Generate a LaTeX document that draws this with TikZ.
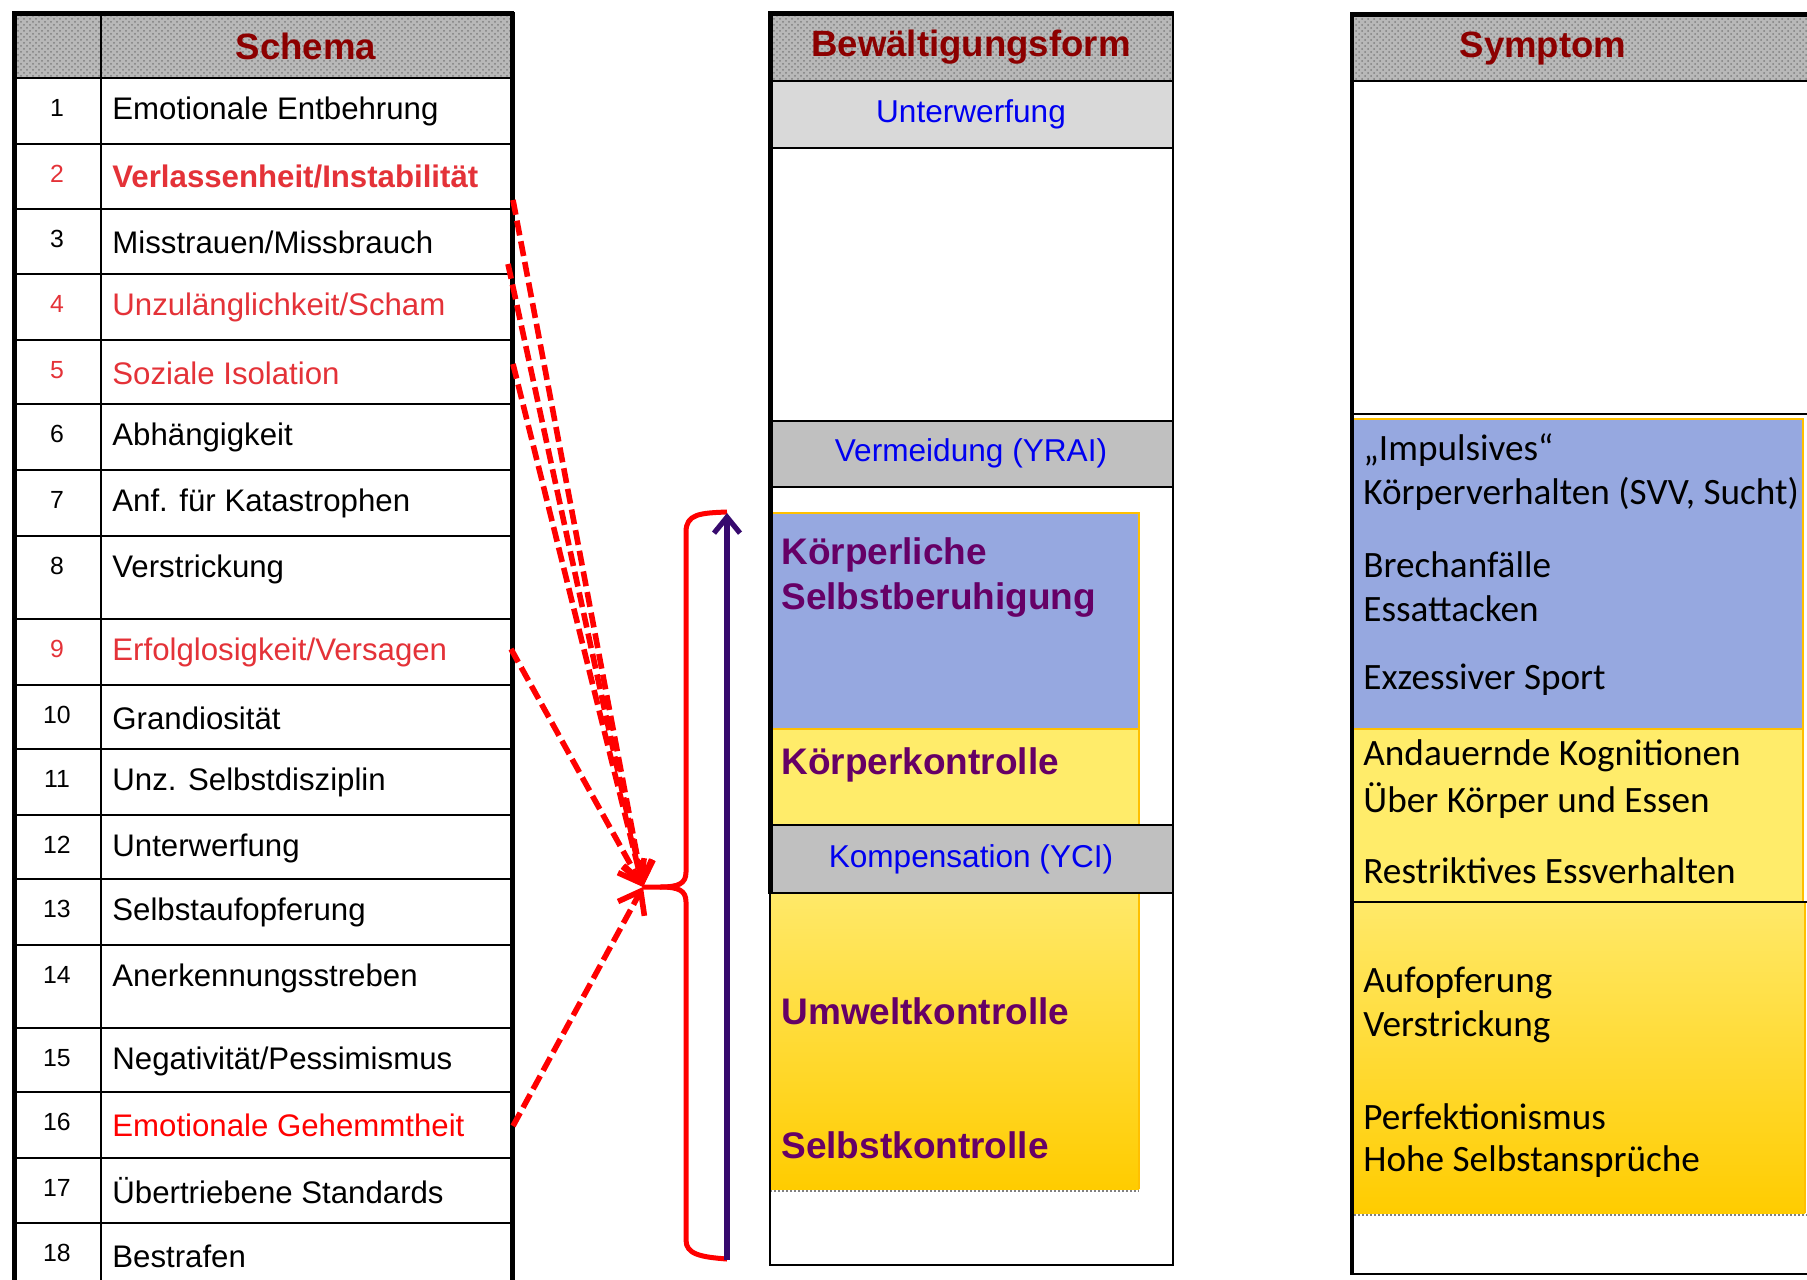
\documentclass[tikz,border=0pt]{standalone}
\usepackage{fontspec}
\setmainfont{Liberation Sans}
\newfontfamily\calfont{Carlito}
\usetikzlibrary{arrows.meta,patterns}
\definecolor{hdrred}{RGB}{140,0,0}
\definecolor{lred}{RGB}{228,50,56}
\definecolor{purp}{RGB}{102,0,102}
\definecolor{bluebox}{RGB}{150,168,224}
\definecolor{yellowbox}{RGB}{255,236,106}
\definecolor{gradtop}{RGB}{255,233,105}
\definecolor{gradbot}{RGB}{255,204,0}
\definecolor{boxedge}{RGB}{255,192,0}
\definecolor{bandA}{RGB}{217,217,217}
\definecolor{bandB}{RGB}{192,192,192}
\definecolor{arrowpurple}{RGB}{55,10,110}
\definecolor{txtblue}{RGB}{0,0,240}
\begin{document}
\begin{tikzpicture}[x=0.5pt,y=-0.5pt,
  hdrtxt/.style={font=\fontsize{18.3pt}{22pt}\selectfont\bfseries, text=hdrred, inner sep=0},
  numtxt/.style={font=\fontsize{12.4pt}{14pt}\selectfont, inner sep=0},
  rowtxt/.style={font=\fontsize{15.6pt}{18pt}\selectfont, inner sep=0, anchor=west},
  bandtxt/.style={font=\fontsize{15.8pt}{18pt}\selectfont, text=txtblue, inner sep=0},
  purtxt/.style={font=\fontsize{18.5pt}{22pt}\selectfont\bfseries, text=purp, inner sep=0, anchor=west},
  symtxt/.style={font=\calfont\fontsize{18.6pt}{22pt}\selectfont, inner sep=0, anchor=west},
  gridline/.style={line width=1.3pt},
  heavyline/.style={line width=2.5pt},
  hdrfill/.style={fill=black!28, postaction={pattern=crosshatch dots, pattern color=black!50}},
  boxline/.style={draw=boxedge, line width=0.8pt},
  shadowline/.style={draw=gray, densely dotted, line width=1pt},
  redarrow/.style={draw=red, line width=2.8pt, dash pattern=on 7.5pt off 3pt,
     -{Straight Barb[length=10pt,width=15pt,line width=2.8pt]}},
  bracestyle/.style={draw=red, line width=2.5pt, line join=round},
  purparrow/.style={draw=arrowpurple, line width=2.6pt,
     -{Straight Barb[length=8pt,width=13pt,line width=2.6pt]}}
]
\useasboundingbox (0,0) rectangle (1807,1279);
\clip (0,0) rectangle (1807,1279);
\fill[white] (0,0) rectangle (1807,1279);

% ---------------- Table 1: Schema ----------------
\path[hdrfill] (14,14) rectangle (512,78);
\foreach \y in {78,144,209,274,340,404,470,536,619,685,749,815,879,945,1028,1092,1158,1223}
  \draw[gridline] (14,\y) -- (512,\y);
\draw[gridline] (101,14) -- (101,1300);
\draw[heavyline] (14,12) -- (14,1300);
\draw[heavyline] (512,12) -- (512,1300);
\draw[heavyline] (12,14) -- (514,14);
\node[hdrtxt] (h1) at (306,46) {Schema};

\foreach \i/\top/\txt/\ncol/\tcol in {
  1/78/{Emotionale Entbehrung}/black/black,
  2/144/{\textbf{Verlassenheit/Instabilität}}/lred/lred,
  3/209/{Misstrauen/Missbrauch}/black/black,
  4/274/{Unzulänglichkeit/Scham}/lred/lred,
  5/340/{Soziale Isolation}/lred/lred,
  6/404/{Abhängigkeit}/black/black,
  7/470/{Anf. für Katastrophen}/black/black,
  8/536/{Verstrickung}/black/black,
  9/619/{Erfolglosigkeit/Versagen}/lred/lred,
  10/685/{Grandiosität}/black/black,
  11/749/{Unz. Selbstdisziplin}/black/black,
  12/815/{Unterwerfung}/black/black,
  13/879/{Selbstaufopferung}/black/black,
  14/945/{Anerkennungsstreben}/black/black,
  15/1028/{Negativität/Pessimismus}/black/black,
  16/1092/{Emotionale Gehemmtheit}/black/red,
  17/1158/{Übertriebene Standards}/black/black,
  18/1223/{Bestrafen}/black/black}
{
  \node[numtxt, text=\ncol] (k\i) at (57,\top+30) {\i};
  \node[rowtxt, text=\tcol] (t\i) at (112,\top+33) {\txt};
}

% ---------------- Table 2: Bewältigungsform ----------------
\path[hdrfill] (770,14) rectangle (1173,81);
\fill[bandA] (770,81) rectangle (1173,148);
\fill[bandB] (770,421) rectangle (1173,487);
\fill[bluebox] (770,513) rectangle (1139,729);
\fill[yellowbox] (770,729) rectangle (1139,825);
\draw[boxline] (770,513) -- (1139,513) -- (1139,825);
\draw[boxline] (770,729) -- (1139,729);
\fill[bandB] (770,825) rectangle (1173,893);
\shade[top color=gradtop, bottom color=gradbot] (770,893) rectangle (1139,1189);
\draw[boxline] (1139,893) -- (1139,1189);
\draw[shadowline] (770,1191) -- (1139,1191);
\foreach \y in {81,148,421,487,825,893}
  \draw[gridline] (770,\y) -- (1173,\y);
\draw[gridline] (770,1265) -- (1173,1265);
\draw[gridline] (1173,14) -- (1173,1266);
\draw[gridline] (770,893) -- (770,1266);
\draw[heavyline] (770,12) -- (770,894);
\draw[heavyline] (768,14) -- (1174,14);
\node[hdrtxt] (h2) at (971,47) {Bewältigungsform};
\node[bandtxt] (b1) at (971,114) {Unterwerfung};
\node[bandtxt] (b2) at (971,453) {Vermeidung (YRAI)};
\node[bandtxt] (b3) at (971,859) {Kompensation (YCI)};
\node[purtxt] (p1) at (781,555) {Körperliche};
\node[purtxt] (p2) at (781,600) {Selbstberuhigung};
\node[purtxt] (p3) at (781,765) {Körperkontrolle};
\node[purtxt] (p4) at (781,1011) {Umweltkontrolle};
\node[purtxt] (p5) at (781,1145) {Selbstkontrolle};

% ---------------- Table 3: Symptom ----------------
\path[hdrfill] (1352,15) rectangle (1807,81);
\fill[bluebox] (1354,419) rectangle (1803,729);
\fill[yellowbox] (1354,729) rectangle (1803,902);
\draw[boxline] (1354,419) -- (1803,419) -- (1803,902);
\draw[boxline] (1354,729) -- (1803,729);
\shade[top color=gradtop, bottom color=gradbot] (1354,902) rectangle (1805,1213);
\draw[boxline] (1805,902) -- (1805,1213);
\draw[shadowline] (1354,1215) -- (1807,1215);
\draw[gridline] (1352,81) -- (1807,81);
\draw[gridline] (1352,414) -- (1807,414);
\draw[gridline] (1352,902) -- (1807,902);
\draw[gridline] (1352,1274) -- (1807,1274);
\draw[line width=1.8pt] (1352,14) -- (1352,1275);
\draw[heavyline] (1350,15) -- (1807,15);
\node[hdrtxt] (h3) at (1543,49) {Symptom};
\node[symtxt] (y1) at (1363,450) {„Impulsives“};
\node[symtxt] (y2) at (1363,494) {Körperverhalten (SVV, Sucht)};
\node[symtxt] (y3) at (1363,565) {Brechanfälle};
\node[symtxt] (y4) at (1363,609) {Essattacken};
\node[symtxt] (y5) at (1363,680) {Exzessiver Sport};
\node[symtxt] (y6) at (1363,756) {Andauernde Kognitionen};
\node[symtxt] (y7) at (1363,801) {Über Körper und Essen};
\node[symtxt] (y8) at (1363,871) {Restriktives Essverhalten};
\node[symtxt] (y9) at (1363,983) {Aufopferung};
\node[symtxt] (y10) at (1363,1027) {Verstrickung};
\node[symtxt] (y11) at (1363,1117) {Perfektionismus};
\node[symtxt] (y12) at (1363,1162) {Hohe Selbstansprüche};

% ---------------- Connectors ----------------
\coordinate (tip) at (643,887);
\coordinate (s2) at (513,200);
\coordinate (s4) at (508,264);
\coordinate (s5) at (513,364);
\coordinate (s9) at (511,649);
\coordinate (s16) at (513,1126);
\draw[redarrow] (s2) -- (tip);
\draw[redarrow] (s4) -- (tip);
\draw[redarrow] (s5) -- (tip);
\draw[redarrow] (s9) -- (tip);
\draw[redarrow] (s16) -- (tip);

% brace
\coordinate (btop) at (727,512);
\coordinate (bbot) at (727,1259);
\draw[bracestyle] (btop) .. controls (700,513) and (686,514) .. (686,532)
   -- (686,872) .. controls (686,884) and (678,887) .. (660,887) -- (tip);
\draw[bracestyle] (660,887) .. controls (678,887) and (686,890) .. (686,902)
   -- (686,1240) .. controls (686,1254) and (700,1257) .. (bbot);

% purple arrow
\coordinate (pbot) at (727,1260);
\coordinate (ptop) at (727,513);
\draw[purparrow] (pbot) -- (ptop);
\end{tikzpicture}
\end{document}
